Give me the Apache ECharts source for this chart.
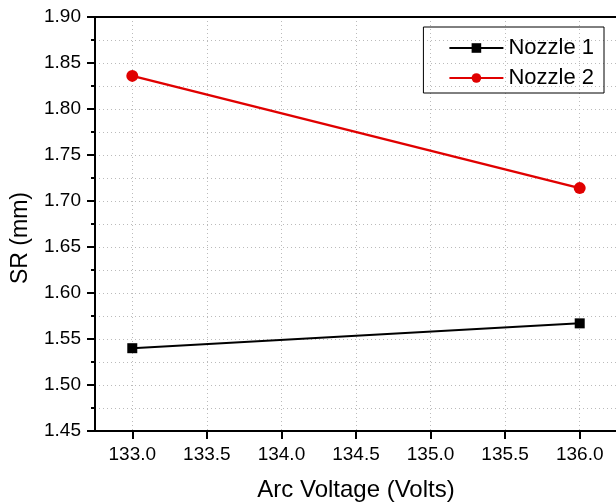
<!DOCTYPE html>
<html><head><meta charset="utf-8">
<script src="https://cdn.jsdelivr.net/npm/echarts@6/dist/echarts.min.js"></script>
<style>html,body{margin:0;padding:0;background:#fff}#c{width:616px;height:502px}</style>
</head><body><div id="c"></div>
<script>
var xValues = [133.0, 136.0];
var nozzle1 = [1.540, 1.567];
var nozzle2 = [1.836, 1.714];
var seriesNames = ['Nozzle 1', 'Nozzle 2'];
var xTicks = [133.0, 133.5, 134.0, 134.5, 135.0, 135.5, 136.0];

var font = 'Liberation Sans, Arial, sans-serif';
var chart = echarts.init(document.getElementById('c'));
var grid = {left: 95, top: 17, width: 522, height: 414, containLabel:false, outerBoundsMode:'none'};
function pairs(vals){ return xValues.map(function(x,i){return [x, vals[i]];}); }
var gridDash = {show:true, lineStyle:{color:'#bbbbbb', type:[1,3], width:1}};
chart.setOption({
  animation:false,
  backgroundColor:'#fff',
  grid: grid,
  legend: {
    right: 12, top: 27, orient:'vertical',
    width: 183, padding:[10,10,4,25], itemGap: 8,
    borderColor:'#000', borderWidth:1,
    itemWidth: 54, itemHeight: 12,
    textStyle:{fontFamily:font, fontSize:22, color:'#000'},
    data: seriesNames
  },
  xAxis: [{
    type:'value', min:132.75, max:136.25, interval:0.5,
    name:'Arc Voltage (Volts)', nameLocation:'middle', nameGap:47,
    nameTextStyle:{fontFamily:font, fontSize:24, color:'#000'},
    axisLine:{onZero:false, lineStyle:{color:'#000', width:2}},
    axisTick:{show:true, length:8, lineStyle:{color:'#000', width:2}, customValues:xTicks},
    minorTick:{show:true, splitNumber:2, length:4, lineStyle:{color:'#000', width:2}},
    axisLabel:{fontFamily:font, fontSize:19, color:'#000', margin:14,
      customValues:xTicks,
      formatter:function(v){return v.toFixed(1);}},
    splitLine:gridDash, minorSplitLine:gridDash
  },{
    type:'value', position:'top', min:132.75, max:136.25,
    axisLine:{show:true, lineStyle:{color:'#000', width:2}},
    axisTick:{show:false}, axisLabel:{show:false}, splitLine:{show:false}
  }],
  yAxis: [{
    type:'value', min:1.45, max:1.90, interval:0.05,
    name:'SR (mm)', nameLocation:'middle', nameGap:63,
    nameTextStyle:{fontFamily:font, fontSize:23, color:'#000', padding:[0,28,0,0]},
    axisLine:{show:true, lineStyle:{color:'#000', width:2}},
    axisTick:{show:true, length:8, lineStyle:{color:'#000', width:2}},
    minorTick:{show:true, splitNumber:2, length:4, lineStyle:{color:'#000', width:2}},
    axisLabel:{fontFamily:font, fontSize:19, color:'#000', margin:14,
      formatter:function(v){return v.toFixed(2);}},
    splitLine:gridDash, minorSplitLine:gridDash
  }],
  series: [{
    name: seriesNames[0], type:'line', data: pairs(nozzle1),
    symbol:'rect', symbolSize:10, color:'#000',
    lineStyle:{color:'#000', width:2}, itemStyle:{color:'#000'}
  },{
    name: seriesNames[1], type:'line', data: pairs(nozzle2),
    symbol:'circle', symbolSize:12, color:'#e00000',
    lineStyle:{color:'#e00000', width:2.5}, itemStyle:{color:'#e00000'}
  }]
});
</script></body></html>
